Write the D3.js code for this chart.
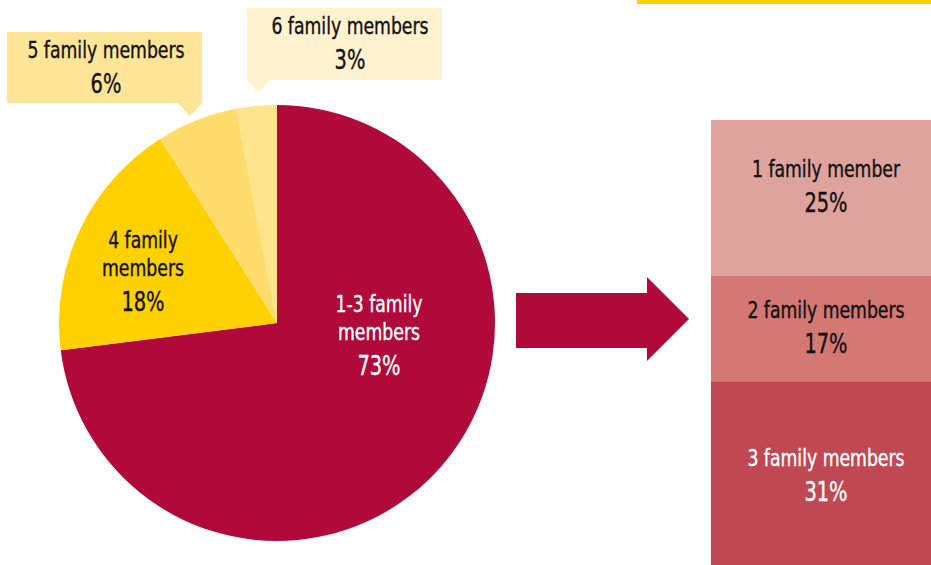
<!DOCTYPE html>
<html>
<head>
<meta charset="utf-8">
<script src="https://cdn.jsdelivr.net/npm/d3@7"></script>
<style>
  html, body { margin: 0; padding: 0; background: #fff; overflow: hidden; }
  svg text { font-family: "DejaVu Sans Condensed", "Liberation Sans Narrow", sans-serif; }
</style>
</head>
<body>
<script>
(function() {

var width = 931, height = 565;

// pie data
var pieCategories = ["1-3 family members", "4 family members", "5 family members", "6 family members"];
var pieValues = [73, 18, 6, 3];
var pieColors = ["#b0093a", "#ffd100", "#ffdc6c", "#ffe48e"];

// breakdown of the 1-3 slice
var stackCategories = ["1 family member", "2 family members", "3 family members"];
var stackValues = [25, 17, 31];
var stackColors = ["#dfa39e", "#d37873", "#bf4852"];

var svg = d3.select("body").
  append("svg").
  attr("width", width).
  attr("height", height);

// yellow rule top right
svg.append("rect").
  attr("x", 637).attr("y", 0).
  attr("width", width - 637).attr("height", 4).
  attr("fill", "#ffd100");

// pie
var cx = 277, cy = 323, radius = 218;
var pie = d3.pie().sort(null).value(function(d) { return d; });
var arc = d3.arc().innerRadius(0).outerRadius(radius);

var g = svg.append("g").attr("transform", "translate(" + cx + "," + cy + ")");
g.selectAll("path").
  data(pie(pieValues)).
  enter().append("path").
  attr("d", arc).
  attr("fill", function(d, i) { return pieColors[i]; });

// narrow text: squeeze horizontally round the anchor
var lineH = 28;
function txt(parent, s, x, y, size, sx) {
  parent.append("text").
    attr("transform", "translate(" + x + "," + y + ") scale(" + sx + ",1)").
    attr("font-size", size).
    text(s);
}

function label(lines, pct, x, y, color) {
  var t = svg.append("g").
    attr("fill", color).
    attr("stroke", color).attr("stroke-width", 0.35).
    attr("text-anchor", "middle");
  lines.forEach(function(l, i) {
    txt(t, l, x, y + i * lineH, 23, 0.835);
  });
  txt(t, pct + "%", x, y + lines.length * lineH + 7, 26, 0.83);
}

function callout(x0, y0, w, h, px0, px1, ax, ay, fill) {
  svg.append("path").
    attr("d", "M" + x0 + "," + y0 + "h" + w + "v" + h +
      "H" + px1 + "L" + ax + "," + ay + "L" + px0 + "," + (y0 + h) +
      "H" + x0 + "Z").
    attr("fill", fill);
}

callout(7, 32, 195, 71, 178, 202, 190, 116, "#fee597");
callout(247, 8, 195, 72, 247, 270, 258, 92, "#fff2cf");

label(["1-3 family", "members"], pieValues[0], 379, 312, "#fff");
label(["4 family", "members"], pieValues[1], 143, 248, "#111");
label(["5 family members"], pieValues[2], 106, 58, "#111");
label(["6 family members"], pieValues[3], 350, 34, "#111");

// arrow
svg.append("path").
  attr("d", "M516,293H647V277L689,319L647,361V348H516Z").
  attr("fill", "#b0093a");

// stacked bar
var y = d3.scaleLinear().domain([0, d3.sum(stackValues)]).range([120, 120 + d3.sum(stackValues) * 6.22]);
var cum = 0;
var stack = stackValues.map(function(v) { var s = { y0: cum, y1: cum + v, v: v }; cum += v; return s; });

svg.selectAll("rect.seg").
  data(stack).
  enter().append("rect").
  attr("class", "seg").
  attr("x", 711).
  attr("width", width - 711).
  attr("y", function(d) { return y(d.y0); }).
  attr("height", function(d) { return y(d.y1) - y(d.y0); }).
  attr("fill", function(d, i) { return stackColors[i]; });

var stackLabelY = [177, 318, 466];
stack.forEach(function(d, i) {
  label([stackCategories[i]], d.v, 826, stackLabelY[i], i === 2 ? "#fff" : "#111");
});

})();
</script>
</body>
</html>
